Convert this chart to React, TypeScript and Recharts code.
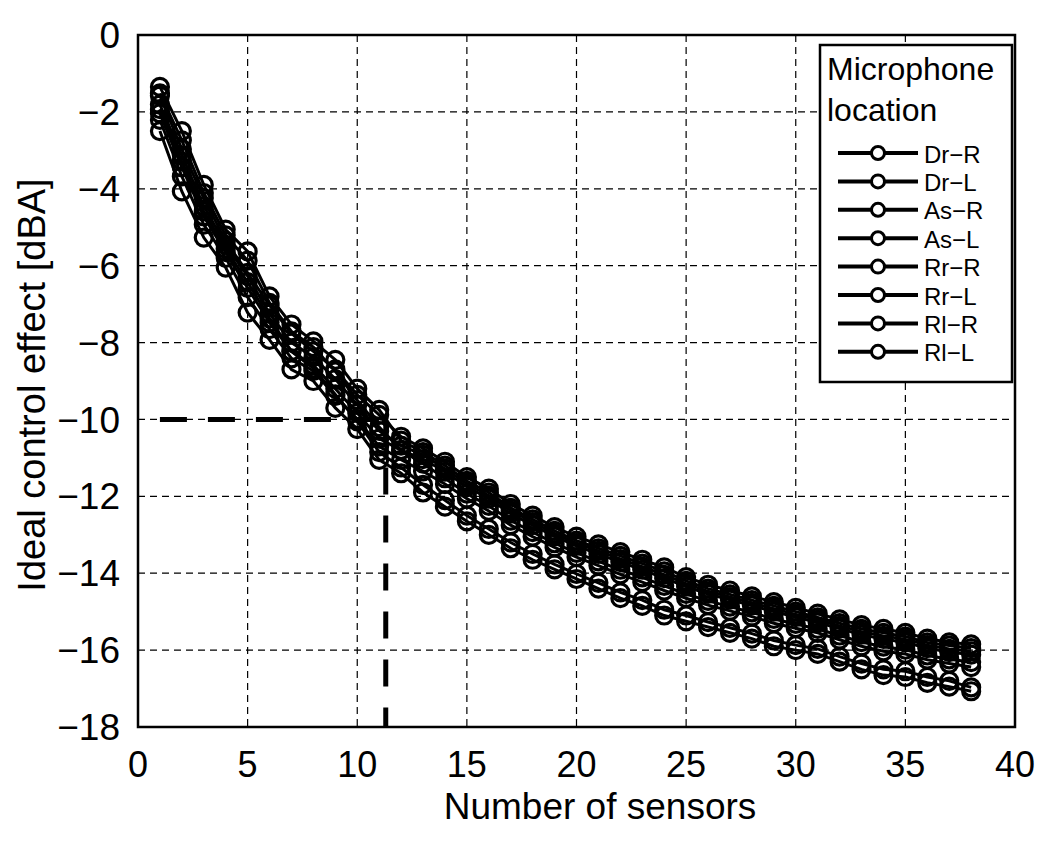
import React from 'react';
import {
  LineChart,
  Line,
  XAxis,
  YAxis,
  CartesianGrid,
  ReferenceLine,
  ReferenceArea,
} from 'recharts';

// Number of sensors on the horizontal axis
const sensors = [
  1, 2, 3, 4, 5, 6, 7, 8, 9, 10, 11, 12, 13, 14, 15, 16, 17, 18, 19,
  20, 21, 22, 23, 24, 25, 26, 27, 28, 29, 30, 31, 32, 33, 34, 35, 36, 37, 38,
];

// Ideal control effect [dBA] for each microphone location
const drR = [
  -1.58, -2.97, -4.24, -5.36, -6.19, -7.03, -7.76, -8.23, -8.7, -9.36, -9.88, -10.45, -10.75,
  -11.1, -11.5, -11.8, -12.2, -12.5, -12.8, -13.05, -13.25, -13.45, -13.65, -13.85, -14.1,
  -14.3, -14.45, -14.6, -14.75, -14.9, -15.05, -15.2, -15.35, -15.45, -15.55, -15.7, -15.8, -15.85,
];
const drL = [
  -1.35, -2.5, -3.9, -5.06, -5.63, -6.8, -7.53, -7.97, -8.45, -9.2, -9.75, -10.55, -10.85,
  -11.2, -11.6, -11.9, -12.3, -12.6, -12.9, -13.15, -13.35, -13.55, -13.75, -13.95, -14.2,
  -14.4, -14.55, -14.7, -14.85, -15.0, -15.15, -15.3, -15.45, -15.55, -15.65, -15.8, -15.88, -15.95,
];
const asR = [
  -1.81, -3.13, -4.45, -5.46, -6.27, -7.25, -8.0, -8.38, -8.95, -9.62, -10.3, -10.68, -10.92,
  -11.28, -11.67, -11.98, -12.37, -12.67, -12.97, -13.22, -13.42, -13.63, -13.83, -14.04, -14.27,
  -14.47, -14.62, -14.77, -14.92, -15.07, -15.21, -15.37, -15.52, -15.63, -15.72, -15.87, -15.97, -16.03,
];
const asL = [
  -2.04, -3.44, -4.72, -5.65, -6.58, -7.48, -8.23, -8.59, -9.2, -9.83, -10.5, -10.8, -11.03,
  -11.36, -11.75, -12.06, -12.45, -12.75, -13.04, -13.29, -13.5, -13.71, -13.91, -14.13, -14.35,
  -14.54, -14.69, -14.84, -15.0, -15.14, -15.28, -15.44, -15.6, -15.71, -15.8, -15.95, -16.05, -16.12,
];
const rrR = [
  -1.52, -2.74, -4.11, -5.21, -5.87, -6.97, -7.71, -8.12, -8.75, -9.5, -10.2, -10.8, -11.15,
  -11.53, -11.93, -12.25, -12.63, -12.93, -13.22, -13.47, -13.69, -13.91, -14.11, -14.33, -14.54,
  -14.72, -14.87, -15.02, -15.19, -15.32, -15.45, -15.62, -15.79, -15.91, -15.99, -16.14, -16.24, -16.31,
];
const rrL = [
  -2.21, -3.68, -4.93, -5.8, -6.82, -7.65, -8.41, -8.74, -9.39, -9.99, -10.7, -11.05, -11.35,
  -11.68, -12.06, -12.38, -12.75, -13.05, -13.33, -13.58, -13.8, -14.03, -14.23, -14.45, -14.65,
  -14.83, -14.98, -15.13, -15.3, -15.43, -15.55, -15.73, -15.9, -16.03, -16.1, -16.25, -16.35, -16.44,
];
const rlR = [
  -1.93, -3.29, -4.59, -5.56, -6.43, -7.37, -8.23, -8.67, -9.35, -10.05, -10.85, -11.25, -11.7,
  -12.1, -12.5, -12.85, -13.2, -13.5, -13.77, -14.02, -14.25, -14.5, -14.7, -14.95, -15.1,
  -15.27, -15.42, -15.57, -15.75, -15.87, -15.97, -16.17, -16.35, -16.5, -16.55, -16.7, -16.8, -16.97,
];
const rlL = [
  -2.5, -4.07, -5.27, -6.05, -7.22, -7.93, -8.7, -9.0, -9.7, -10.25, -11.05, -11.4, -11.9,
  -12.27, -12.65, -13.0, -13.35, -13.65, -13.9, -14.15, -14.4, -14.65, -14.85, -15.1, -15.25,
  -15.4, -15.55, -15.7, -15.9, -16.0, -16.1, -16.3, -16.5, -16.65, -16.7, -16.85, -16.95, -17.07,
];

const seriesKeys = ['drR', 'drL', 'asR', 'asL', 'rrR', 'rrL', 'rlR', 'rlL'];
const seriesNames = ['Dr\u2212R', 'Dr\u2212L', 'As\u2212R', 'As\u2212L', 'Rr\u2212R', 'Rr\u2212L', 'Rl\u2212R', 'Rl\u2212L'];
const seriesValues = [drR, drL, asR, asL, rrR, rrL, rlR, rlL];

const xTicks = [0, 5, 10, 15, 20, 25, 30, 35, 40];
const yTicks = [0, -2, -4, -6, -8, -10, -12, -14, -16, -18];

// Target effect and the sensor count needed to reach it
const targetEffect = -10;
const targetStart = 1;
const requiredSensors = 11.3;

const rows = sensors.map((n, i) => {
  const row: Record<string, number> = { n };
  seriesKeys.forEach((k, j) => {
    row[k] = seriesValues[j][i];
  });
  return row;
});

const FONT = '"Liberation Sans", Arial, sans-serif';

function LegendBox() {
  const firstRow = 153;
  const rowStep = 28.4;
  return (
    <svg
      width={1051}
      height={843}
      style={{ position: 'absolute', left: 0, top: 0, pointerEvents: 'none' }}
    >
      <rect x={820} y={45} width={192} height={337} fill="#fff" stroke="#000" strokeWidth={2.5} />
      <text x={827} y={69} dominantBaseline="central" fontSize={32} fontFamily={FONT} fill="#000">
        Microphone
      </text>
      <text x={827} y={110} dominantBaseline="central" fontSize={32} fontFamily={FONT} fill="#000">
        location
      </text>
      {seriesNames.map((name, i) => {
        const y = firstRow + i * rowStep;
        return (
          <g key={name}>
            <line x1={838} x2={918} y1={y} y2={y} stroke="#000" strokeWidth={4} />
            <circle cx={878} cy={y} r={6.5} fill="#fff" stroke="#000" strokeWidth={3} />
            <text x={924} y={y + 1} dominantBaseline="central" fontSize={24} fontFamily={FONT} fill="#000">
              {name}
            </text>
          </g>
        );
      })}
    </svg>
  );
}

export default function App() {
  return (
    <div style={{ position: 'absolute', left: 0, top: 0, width: 1051, height: 843, background: '#fff' }}>
      <LineChart
        width={1051}
        height={843}
        data={rows}
        margin={{ top: 35, right: 36, left: 0, bottom: 0 }}
        style={{ fontFamily: FONT }}
      >
        <CartesianGrid stroke="#000" strokeWidth={1.2} strokeDasharray="7 5" />
        <XAxis
          type="number"
          dataKey="n"
          domain={[0, 40]}
          ticks={xTicks}
          height={116}
          tickSize={0}
          tickMargin={24}
          axisLine={false}
          tickLine={false}
          tick={{ fontSize: 36, fill: '#000', fontFamily: FONT }}
          interval={0}
        />
        <YAxis
          type="number"
          domain={[-18, 0]}
          ticks={yTicks}
          width={138}
          tickSize={0}
          tickMargin={18}
          axisLine={false}
          tickLine={false}
          tick={{ fontSize: 37, fill: '#000', fontFamily: FONT }}
          tickFormatter={(v: number) => (v < 0 ? `\u2212${Math.abs(v)}` : `${v}`)}
          interval={0}
        />
        <ReferenceArea
          x1={0}
          x2={40}
          y1={-18}
          y2={0}
          fill="none"
          stroke="#000"
          strokeWidth={2.5}
          ifOverflow="visible"
        />
        {seriesKeys.map((k) => (
          <Line
            key={k}
            dataKey={k}
            stroke="#000"
            strokeWidth={3}
            dot={{ r: 8.5, stroke: '#000', strokeWidth: 3.2, fill: 'none' }}
            activeDot={false}
            isAnimationActive={false}
          />
        ))}
        <ReferenceLine
          segment={[
            { x: targetStart, y: targetEffect },
            { x: requiredSensors, y: targetEffect },
          ]}
          stroke="#000"
          strokeWidth={5}
          strokeDasharray="27 21"
        />
        <ReferenceLine
          segment={[
            { x: requiredSensors, y: targetEffect },
            { x: requiredSensors, y: -18 },
          ]}
          stroke="#000"
          strokeWidth={5}
          strokeDasharray="27 21"
        />
      </LineChart>
      <div
        style={{
          position: 'absolute',
          left: 32,
          top: 385,
          transform: 'translate(-50%, -50%) rotate(-90deg)',
          whiteSpace: 'nowrap',
          fontFamily: FONT,
          fontSize: 38,
          color: '#000',
          lineHeight: 1,
        }}
      >
        Ideal control effect [dBA]
      </div>
      <div
        style={{
          position: 'absolute',
          left: 600,
          top: 806,
          transform: 'translate(-50%, -50%)',
          whiteSpace: 'nowrap',
          fontFamily: FONT,
          fontSize: 37,
          color: '#000',
          lineHeight: 1,
        }}
      >
        Number of sensors
      </div>
      <LegendBox />
    </div>
  );
}
